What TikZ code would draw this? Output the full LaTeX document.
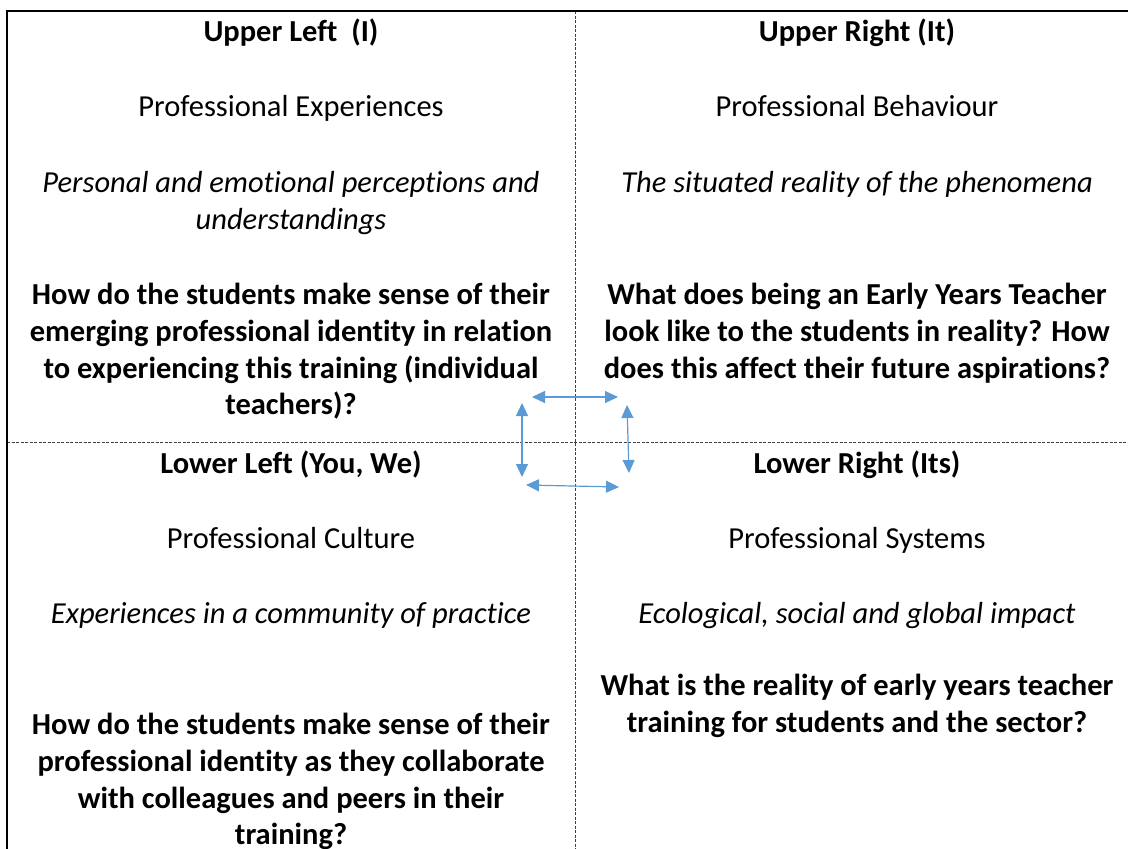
\documentclass[tikz,border=0pt]{standalone}
\usepackage{fontspec}
\setmainfont{Carlito}[Ligatures=NoCommon]
\usetikzlibrary{arrows.meta}
\definecolor{arrowblue}{HTML}{5B9BD5}
\definecolor{dashgray}{HTML}{404040}
\tikzset{
  txt/.style={inner sep=0pt, anchor=north, align=center, font=\fontsize{30.5}{36.7}\selectfont},
  hd/.style={txt, font=\fontsize{30.5}{36.7}\selectfont\bfseries},
  it/.style={txt, font=\fontsize{30.5}{36.7}\selectfont\itshape},
  bq/.style={txt, font=\fontsize{30.5}{36.7}\selectfont\bfseries},
  border/.style={line width=1.5pt, black},
  divider/.style={line width=0.9pt, dashgray, dash pattern=on 3pt off 1.5pt},
  link/.style={arrowblue, line width=1.2pt, {Triangle[length=13pt,width=12pt]}-{Triangle[length=13pt,width=12pt]}}
}
\begin{document}
\begin{tikzpicture}[x=1pt,y=-1pt]
\useasboundingbox (0,0) rectangle (1128,849);
% frame and quadrant dividers
\coordinate (tl) at (7,11);
\coordinate (tr) at (1128,11);
\coordinate (bl) at (7,849);
\coordinate (vt) at (575,11);
\coordinate (vb) at (575,849);
\coordinate (hl) at (7,442);
\coordinate (hr) at (1128,442);
\draw[divider] (vt) -- (vb);
\draw[divider] (hl) -- (hr);
\draw[border] (bl) -- (tl) -- (tr);
% Upper left
\node[hd] (ulh) at (291,41.5-25.7) {\strut Upper Left\ \ (I)};
\node[txt] (uls) at (291,116.5-25.7) {\strut Professional Experiences};
\node[it] (uli) at (291,192.5-25.7) {\strut Personal and emotional perceptions and\\understandings};
\node[bq] (ulq) at (291,304.5-25.7) {\strut How do the students make sense of their\\emerging professional identity in relation\\to experiencing this training (individual\\teachers)?};
% Upper right
\node[hd] (urh) at (857,41.5-25.7) {\strut Upper Right (It)};
\node[txt] (urs) at (857,116.5-25.7) {\strut Professional Behaviour};
\node[it] (uri) at (857,192.5-25.7) {\strut The situated reality of the phenomena};
\node[bq] (urq) at (857,304.5-25.7) {\strut What does being an Early Years Teacher\\look like to the students in reality? How\\does this affect their future aspirations?};
% Lower left
\node[hd] (llh) at (291,473.5-25.7) {\strut Lower Left (You, We)};
\node[txt] (lls) at (291,548.5-25.7) {\strut Professional Culture};
\node[it] (lli) at (291,623.5-25.7) {\strut Experiences in a community of practice};
\node[bq] (llq) at (291,734.5-25.7) {\strut How do the students make sense of their\\professional identity as they collaborate\\with colleagues and peers in their\\training?};
% Lower right
\node[hd] (lrh) at (857,473.5-25.7) {\strut Lower Right (Its)};
\node[txt] (lrs) at (857,548.5-25.7) {\strut Professional Systems};
\node[it] (lri) at (857,623.5-25.7) {\strut Ecological, social and global impact};
\node[bq] (lrq) at (857,695.5-25.7) {\strut What is the reality of early years teacher\\training for students and the sector?};
% arrows between quadrants
\coordinate (a1) at (532,397);
\coordinate (a2) at (618,397);
\coordinate (a3) at (522,403);
\coordinate (a4) at (522,477);
\coordinate (a5) at (627,405);
\coordinate (a6) at (629,473);
\coordinate (a7) at (526,485);
\coordinate (a8) at (619,487);
\draw[link] (a1) -- (a2);
\draw[link] (a3) -- (a4);
\draw[link] (a5) -- (a6);
\draw[link] (a7) -- (a8);
\end{tikzpicture}
\end{document}
